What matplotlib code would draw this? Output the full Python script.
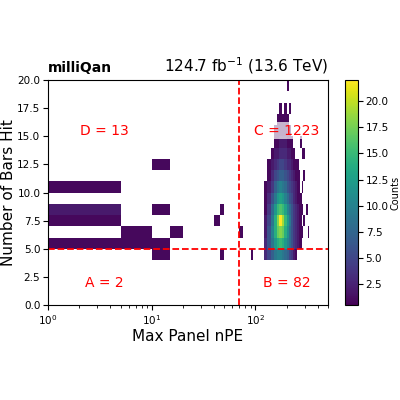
import numpy as np
import matplotlib
matplotlib.use("Agg")
import matplotlib.pyplot as plt

# left-region sparse cells: (x_lo, x_hi, y_lo, count)
left_cells = [(1,5,5,1),(5,10,5,1),(10,15,5,1),(5,10,6,1),(15,20,6,1),
              (1,5,7,1),(40,45,7,1),(1,5,8,2),(10,15,8,1),(45,50,8,1),
              (1,5,10,1),(10,15,12,1),(10,15,4,1),(45,50,4,1),(90,95,4,1),(70,75,6,1)]
x_edges_right = [120,130,140,150,160,170,180,190,200,210,220,230,240,250,260,270,280,290,300,310,320,330]
y_rows = list(range(4, 20))
counts = [
 [3,5,7,9,10,10,9,8,7,5,4,2,1,0,0,0,0,0,0,0,0],
 [3,6,9,12,14,15,14,12,10,8,6,4,3,2,1,1,0,0,0,0,0],
 [2,6,10,14,17,18,17,14,11,8,6,4,3,2,1,1,1,0,0,0,1],
 [2,5,9,14,18,22,19,15,12,9,6,4,3,2,1,1,0,1,0,0,0],
 [1,4,8,12,15,16,15,13,10,8,6,4,3,2,1,1,1,0,0,1,0],
 [1,3,6,9,12,13,12,10,8,6,5,3,2,1,1,1,0,0,0,0,0],
 [1,2,4,7,9,10,9,8,6,5,4,3,2,1,1,0,1,0,0,0,0],
 [0,1,3,5,6,7,7,6,5,4,3,2,1,1,1,0,0,1,0,0,0],
 [0,1,2,3,4,5,5,4,3,3,2,1,1,1,0,0,0,0,0,0,0],
 [0,0,1,2,2,3,3,3,2,2,1,1,0,0,0,0,1,1,0,0,0],
 [0,0,0,1,1,2,2,2,1,1,1,0,0,0,0,1,0,0,0,0,0],
 [0,0,0,1,1,1,1,1,1,1,0,0,0,0,0,0,0,0,0,0,0],
 [0,0,0,0,1,1,1,1,1,0,0,0,0,0,0,0,0,0,0,0,0],
 [0,0,0,0,0,1,0,1,0,1,0,0,0,0,0,0,0,0,0,0,0],
 [0,0,0,0,0,0,0,0,0,0,0,0,0,0,0,0,0,0,0,0,0],
 [0,0,0,0,0,0,0,0,1,0,0,0,0,0,0,0,0,0,0,0,0],
]
region_labels = ["A = 2", "B = 82", "C = 1223", "D = 13"]

fig = plt.figure(figsize=(4, 4), dpi=100)
ax = fig.add_axes([0.12, 0.237, 0.70, 0.563])
cax = fig.add_axes([0.862, 0.237, 0.033, 0.563])
cmap = plt.get_cmap("viridis").copy()
cmap.set_bad("white")
norm = matplotlib.colors.Normalize(vmin=0.5, vmax=22)

C = np.ma.masked_equal(np.array(counts, float), 0)
ye = np.arange(y_rows[0], y_rows[-1] + 2)
mesh = ax.pcolormesh(x_edges_right, ye, C, cmap=cmap, norm=norm)
for x0, x1, y0, c in left_cells:
    ax.pcolormesh([x0, x1], [y0, y0 + 1], np.array([[c]], float), cmap=cmap, norm=norm)

ax.set_xscale("log")
ax.set_xlim(1, 500)
ax.set_ylim(0, 20)
ax.set_yticks(np.arange(0, 20.1, 2.5))
ax.axvline(70, color="red", ls="--", lw=1.3)
ax.axhline(5, color="red", ls="--", lw=1.3)
ax.set_xlabel("Max Panel nPE", fontsize=11, labelpad=2)
ax.set_ylabel("Number of Bars Hit", fontsize=11, labelpad=1)
kw = dict(color="red", fontsize=10, ha="center", va="center")
ax.text(3.5, 2.0, region_labels[0], **kw)
ax.text(200, 2.0, region_labels[1], **kw)
ax.text(200, 15.5, region_labels[2], bbox=dict(facecolor="white", edgecolor="none", alpha=0.7, pad=1), **kw)
ax.text(3.5, 15.5, region_labels[3], **kw)
ax.set_title("milliQan", loc="left", fontweight="bold", fontsize=10)
ax.set_title("124.7 fb$^{-1}$ (13.6 TeV)", loc="right", fontsize=11)
cb = fig.colorbar(mesh, cax=cax)
cb.set_ticks(np.arange(2.5, 21, 2.5))
cb.set_label("Counts", fontsize=7, labelpad=1)
cb.ax.tick_params(labelsize=7.5, pad=2)
ax.tick_params(labelsize=7.5, pad=2)
fig.savefig("out.png", dpi=100)
